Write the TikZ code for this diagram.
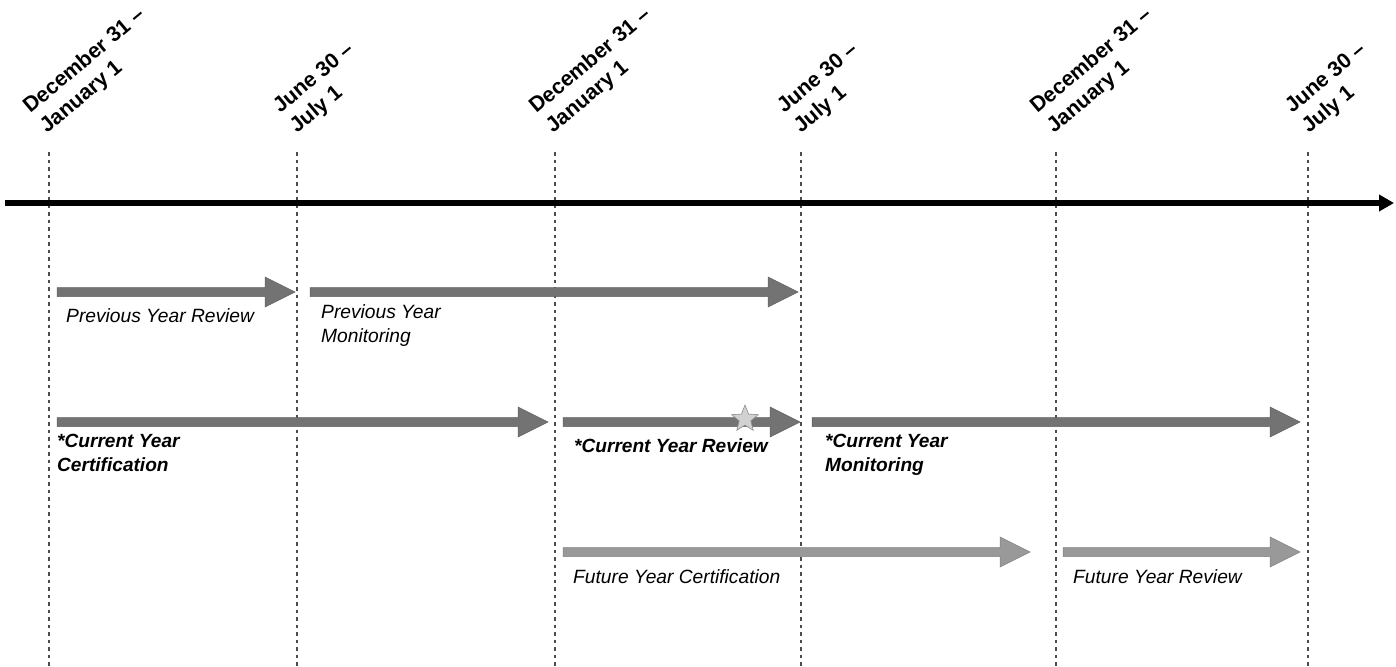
\documentclass[tikz,border=0pt]{standalone}
\usepackage{fontspec}
\setmainfont{Liberation Sans}
\usetikzlibrary{arrows.meta,shapes.geometric}
\tikzset{
  vline/.style={line width=2.6pt, draw=black!70, dash pattern=on 3.5pt off 4pt},
  axis/.style={line width=6pt, -{Triangle[length=15pt,width=16pt]}},
  datelbl/.style={font=\fontsize{21.3}{26}\selectfont\bfseries, align=left, rotate=40, inner sep=0pt, anchor=base west},
  lbl/.style={font=\fontsize{19.2}{24}\selectfont\itshape, align=left, anchor=base west, inner sep=0pt},
  blbl/.style={font=\fontsize{19.1}{24}\selectfont\bfseries\itshape, align=left, anchor=base west, inner sep=0pt},
  darkarrow/.style={fill=black!55, draw=black!62, line width=0.5pt},
  lightarrow/.style={fill=black!40, draw=black!50, line width=0.5pt},
}
\newcommand\blockarrow[4]{% style, x1, x2, y
  \path[#1] (#2,#4-4.5) -- (#3-30,#4-4.5) -- (#3-30,#4-15) -- (#3,#4) -- (#3-30,#4+15) -- (#3-30,#4+4.5) -- (#2,#4+4.5) -- cycle;}
\begin{document}
\begin{tikzpicture}[x=1pt,y=-1pt]
\useasboundingbox (0,0) rectangle (1396,666);
% vertical guide lines
\foreach \i/\x in {1/49,2/297,3/555,4/801,5/1056,6/1308}{
  \coordinate (t\i) at (\x,152);
  \coordinate (b\i) at (\x,666);
  \draw[vline] (t\i) -- (b\i);
}
% main axis
\coordinate (axL) at (5,203);
\coordinate (axR) at (1394,203);
\draw[axis] (axL) -- (axR);
% date labels (anchor = start of second line's baseline)
\node[datelbl] (d1) at (47,134) {December 31 –\\January 1};
\node[datelbl] (d2) at (297,134) {June 30 –\\July 1};
\node[datelbl] (d3) at (553,134) {December 31 –\\January 1};
\node[datelbl] (d4) at (801,134) {June 30 –\\July 1};
\node[datelbl] (d5) at (1054,134) {December 31 –\\January 1};
\node[datelbl] (d6) at (1309,134) {June 30 –\\July 1};
% row 1
\blockarrow{darkarrow}{57}{295}{292}
\blockarrow{darkarrow}{310}{798}{292}
\node[lbl] (pyr) at (66,322) {Previous Year Review};
\node[lbl] (pym) at (321,342) {Previous Year\\Monitoring};
% row 2
\blockarrow{darkarrow}{57}{548}{422}
\blockarrow{darkarrow}{563}{800}{422}
\blockarrow{darkarrow}{812}{1300}{422}
\node[blbl] (cyc) at (57,471) {*Current Year\\Certification};
\node[blbl] (cyr) at (574,452) {*Current Year Review};
\node[blbl] (cym) at (825,471) {*Current Year\\Monitoring};
\node[star, star points=5, star point ratio=2.3, minimum size=28pt, inner sep=0pt, fill=black!18, draw=black!45, line width=0.6pt] (st) at (745,419) {};
% row 3
\blockarrow{lightarrow}{563}{1030}{552}
\blockarrow{lightarrow}{1063}{1300}{552}
\node[lbl] (fyc) at (573,583) {Future Year Certification};
\node[lbl] (fyr) at (1073,583) {Future Year Review};
\end{tikzpicture}
\end{document}
